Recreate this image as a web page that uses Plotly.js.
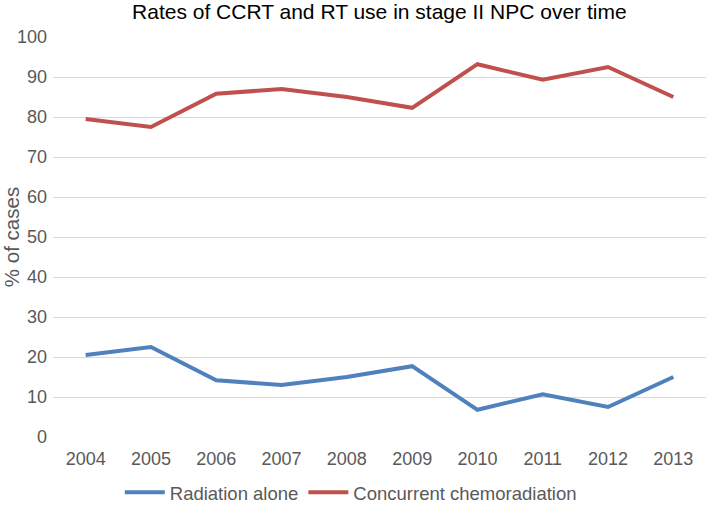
<!DOCTYPE html>
<html><head><meta charset="utf-8">
<script src="https://cdn.plot.ly/plotly-3.0.1.min.js"></script>
<style>html,body{margin:0;padding:0;background:#fff}#chart{width:709px;height:507px}</style>
</head><body><div id="chart"></div>
<script>
var years = ['2004','2005','2006','2007','2008','2009','2010','2011','2012','2013'];
var radiationAlone = [20.5, 22.5, 14.2, 13.0, 15.0, 17.7, 6.8, 10.7, 7.5, 15.0];
var concurrentChemo = [79.5, 77.5, 85.8, 87.0, 85.0, 82.3, 93.2, 89.3, 92.5, 85.0];
var yTicks = [0,10,20,30,40,50,60,70,80,90,100];
var FONT = '"Liberation Sans Narrow", "Arial Narrow", "Liberation Sans", Arial, sans-serif';
var traces = [
  {x: years, y: radiationAlone, type: 'scatter', mode: 'lines', name: 'Radiation alone',
   line: {color: '#4F81BD', width: 4}},
  {x: years, y: concurrentChemo, type: 'scatter', mode: 'lines', name: 'Concurrent chemoradiation',
   line: {color: '#C0504D', width: 4}}
];
var layout = {
  width: 709, height: 507,
  margin: {l: 53, r: 3, t: 37, b: 70, autoexpand: false},
  paper_bgcolor: '#fff', plot_bgcolor: '#fff',
  font: {family: FONT, color: '#595959', size: 18},
  title: {text: 'Rates of CCRT and RT use in stage II NPC over time', font: {family: FONT, size: 21, color: '#000'}, x: 0.535, xanchor: 'center', y: 0.978, yanchor: 'middle'},
  xaxis: {type: 'category', range: [-0.5, 9.5], automargin: false, showgrid: false, zeroline: false, showline: false, ticks: '', ticklabelstandoff: 9, tickfont: {size: 18, color: '#595959'}},
  yaxis: {range: [0, 100], automargin: false, tickvals: yTicks, ticktext: yTicks.map(String), showgrid: true, gridcolor: '#D9D9D9', gridwidth: 1, zeroline: false, showline: false, ticks: '', ticklabelstandoff: 5,
          title: {text: '% of cases', font: {size: 20.5, color: '#595959'}, standoff: 6}, tickfont: {size: 18, color: '#595959'}},
  showlegend: true,
  legend: {orientation: 'h', x: 0.456, xanchor: 'center', yref: 'container', y: 0.028, yanchor: 'middle', font: {size: 18.5, color: '#595959'}, itemwidth: 40, traceorder: 'normal'}
};
Plotly.newPlot('chart', traces, layout, {displayModeBar: false, staticPlot: true});
</script></body></html>
